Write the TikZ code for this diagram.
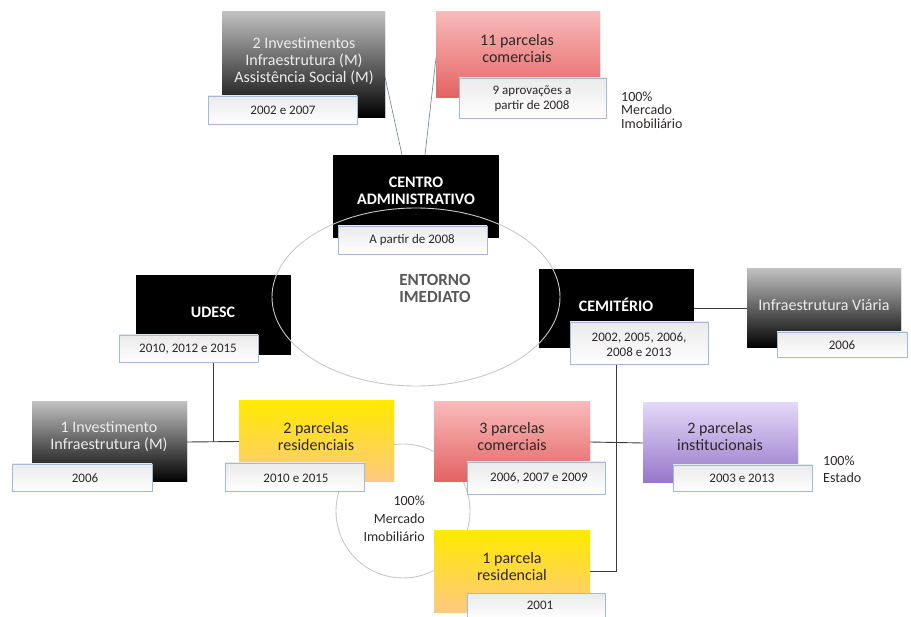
\documentclass[tikz,border=0pt]{standalone}
\usepackage{fontspec}
\setmainfont{Carlito}
\usetikzlibrary{fit,shapes.geometric}
\definecolor{subline}{RGB}{160,186,216}
\definecolor{subtop}{RGB}{234,234,234}
\definecolor{greytop}{RGB}{192,192,192}
\definecolor{redtop}{RGB}{249,186,186}
\definecolor{redbot}{RGB}{228,98,98}
\definecolor{yeltop}{RGB}{255,234,0}
\definecolor{yelbot}{RGB}{255,200,128}
\definecolor{purtop}{RGB}{226,216,248}
\definecolor{purbot}{RGB}{150,118,202}
\definecolor{conncol}{RGB}{60,60,60}
\definecolor{topconn}{RGB}{105,125,145}
\definecolor{ringcol}{RGB}{200,200,200}
\definecolor{darktext}{RGB}{45,40,40}
\definecolor{greytext}{RGB}{236,236,236}
\definecolor{entcol}{RGB}{88,88,88}
\begin{document}
\begin{tikzpicture}[x=1pt,y=-1pt,
  boxbase/.style={inner sep=0pt,outer sep=0pt},
  bxblack/.style={boxbase,fill=black},
  bxgrey/.style={boxbase,top color=greytop,bottom color=black},
  bxred/.style={boxbase,top color=redtop,bottom color=redbot},
  bxyel/.style={boxbase,top color=yeltop,bottom color=yelbot},
  bxpur/.style={boxbase,top color=purtop,bottom color=purbot},
  subbox/.style={boxbase,top color=subtop,bottom color=white,draw=subline,line width=0.8pt},
  conn/.style={draw=conncol,line width=0.9pt},
  topline/.style={draw=topconn,line width=0.6pt},
  ring/.style={draw=ringcol,line width=0.9pt},
  ttw/.style={text=white,font=\fontsize{16}{17}\selectfont\bfseries,align=center,inner sep=0pt},
  ttg/.style={text=greytext,font=\fontsize{16}{17}\selectfont,align=center,inner sep=0pt},
  ttd/.style={text=darktext,font=\fontsize{16}{17}\selectfont,align=center,inner sep=0pt},
  stx/.style={text=darktext,font=\fontsize{13}{15}\selectfont,align=center,inner sep=0pt},
  note/.style={text=darktext,font=\fontsize{14}{13.5}\selectfont,inner sep=0pt}
]
\useasboundingbox (0,0) rectangle (911,617);

% small circle behind everything
\node[ring,circle,minimum size=134pt,inner sep=0pt] (mercado) at (403,511) {};

% main boxes
\node[bxgrey,fit={(222,12)(385,118)}] (inv2) {};
\node[bxred,fit={(436,12)(600,98)}] (com11) {};
\node[bxblack,fit={(333,155)(499,238)}] (adm) {};
\node[bxblack,fit={(136,275)(291,355)}] (udesc) {};
\node[bxblack,fit={(539,269)(694,348)}] (cem) {};
\node[bxgrey,fit={(747,269)(901,348)}] (via) {};
\node[bxgrey,fit={(32,402)(187,482)}] (inv1) {};
\node[bxyel,fit={(239,401)(394,482)}] (res2) {};
\node[bxred,fit={(434,402)(590,482)}] (com3) {};
\node[bxpur,fit={(643,403)(798,483)}] (inst) {};
\node[bxyel,fit={(434,531)(590,612)}] (res1) {};

% connectors
\draw[topline] ([xshift=-14pt]adm.north) -- ([yshift=-12pt]inv2.east);
\draw[topline] ([xshift=9pt]adm.north) -- ([yshift=-3pt]com11.west);
\draw[conn] (udesc.south) -- (udesc.south |- inv1.east);
\draw[conn] (inv1.east) -- (res2.west);
\draw[conn] (cem.east) -- (via.west);
\draw[conn] (cem.south) -- (cem.south |- res1.east) -- (res1.east);
\draw[conn] (com3.east) -- (inst.west);

% redraw box faces over connector ends
\node[bxgrey,fit={(222,12)(385,118)}] {};
\node[bxred,fit={(436,12)(600,98)}] {};
\node[bxblack,fit={(333,155)(499,238)}] {};
\node[bxblack,fit={(539,269)(694,348)}] {};
\node[bxgrey,fit={(747,269)(901,348)}] {};
\node[bxgrey,fit={(32,402)(187,482)}] {};
\node[bxyel,fit={(239,401)(394,482)}] {};
\node[bxred,fit={(434,402)(590,482)}] {};
\node[bxpur,fit={(643,403)(798,483)}] {};
\node[bxyel,fit={(434,531)(590,612)}] {};

% ellipse
\node[ring,ellipse,minimum width=288pt,minimum height=178pt,inner sep=0pt] (entorno) at (416,297) {};

% sub boxes
\node[subbox,fit={(208,96)(357,124)}] (inv2S) {};
\node[subbox,fit={(459,78)(606,118)}] (com11S) {};
\node[subbox,fit={(338,226)(487,254)}] (admS) {};
\node[subbox,fit={(119,335)(258,362)}] (udescS) {};
\node[subbox,fit={(570,322)(708,364)}] (cemS) {};
\node[subbox,fit={(777,332)(907,357)}] (viaS) {};
\node[subbox,fit={(12,464)(152,491)}] (inv1S) {};
\node[subbox,fit={(225,463)(364,491)}] (res2S) {};
\node[subbox,fit={(467,462)(605,494)}] (com3S) {};
\node[subbox,fit={(673,465)(812,491)}] (instS) {};
\node[subbox,fit={(467,593)(605,619)}] (res1S) {};

% titles
\node[ttg] (inv2T) at (304,61) {2 Investimentos\\Infraestrutura (M)\\Assistência Social (M)};
\node[ttd] (com11T) at (517,48.5) {11 parcelas\\comerciais};
\node[ttw] (admT) at (416,190.5) {CENTRO\\ADMINISTRATIVO};
\node[ttw] (udescT) at (213,312) {UDESC};
\node[ttw] (cemT) at (616,305) {CEMITÉRIO};
\node[ttg] (viaT) at (824,305) {Infraestrutura Viária};
\node[ttg] (inv1T) at (109,436.5) {1 Investimento\\Infraestrutura (M)};
\node[ttd] (res2T) at (316,436.5) {2 parcelas\\residenciais};
\node[ttd] (com3T) at (512,436.5) {3 parcelas\\comerciais};
\node[ttd] (instT) at (720,437) {2 parcelas\\institucionais};
\node[ttd] (res1T) at (512,566.5) {1 parcela\\residencial};
\node[text=entcol,font=\fontsize{17}{17}\selectfont\bfseries,align=center,inner sep=0pt] (entT) at (435,288.5) {ENTORNO\\IMEDIATO};

% sub texts
\node[stx] (inv2ST) at (283,110) {2002 e 2007};
\node[stx] (com11ST) at (532,98.5) {9 aprovações a\\partir de 2008};
\node[stx] (admST) at (412,240) {A partir de 2008};
\node[stx] (udescST) at (188,349) {2010, 2012 e 2015};
\node[stx] (cemST) at (639,345) {2002, 2005, 2006,\\2008 e 2013};
\node[stx] (viaST) at (842,345.5) {2006};
\node[stx] (inv1ST) at (85,478) {2006};
\node[stx] (res2ST) at (296,478) {2010 e 2015};
\node[stx] (com3ST) at (539,478) {2006, 2007 e 2009};
\node[stx] (instST) at (742,478) {2003 e 2013};
\node[stx] (res1ST) at (540,605) {2001};

% notes
\node[note,align=left,anchor=west] (noteTop) at (621,110) {100\%\\Mercado\\Imobiliário};
\node[note,align=right,anchor=east,font=\fontsize{14}{18}\selectfont] (noteCirc) at (425,519) {100\%\\Mercado\\Imobiliário};
\node[note,align=left,anchor=west,font=\fontsize{14}{17}\selectfont] (noteEst) at (823,469.5) {100\%\\Estado};
\end{tikzpicture}
\end{document}
